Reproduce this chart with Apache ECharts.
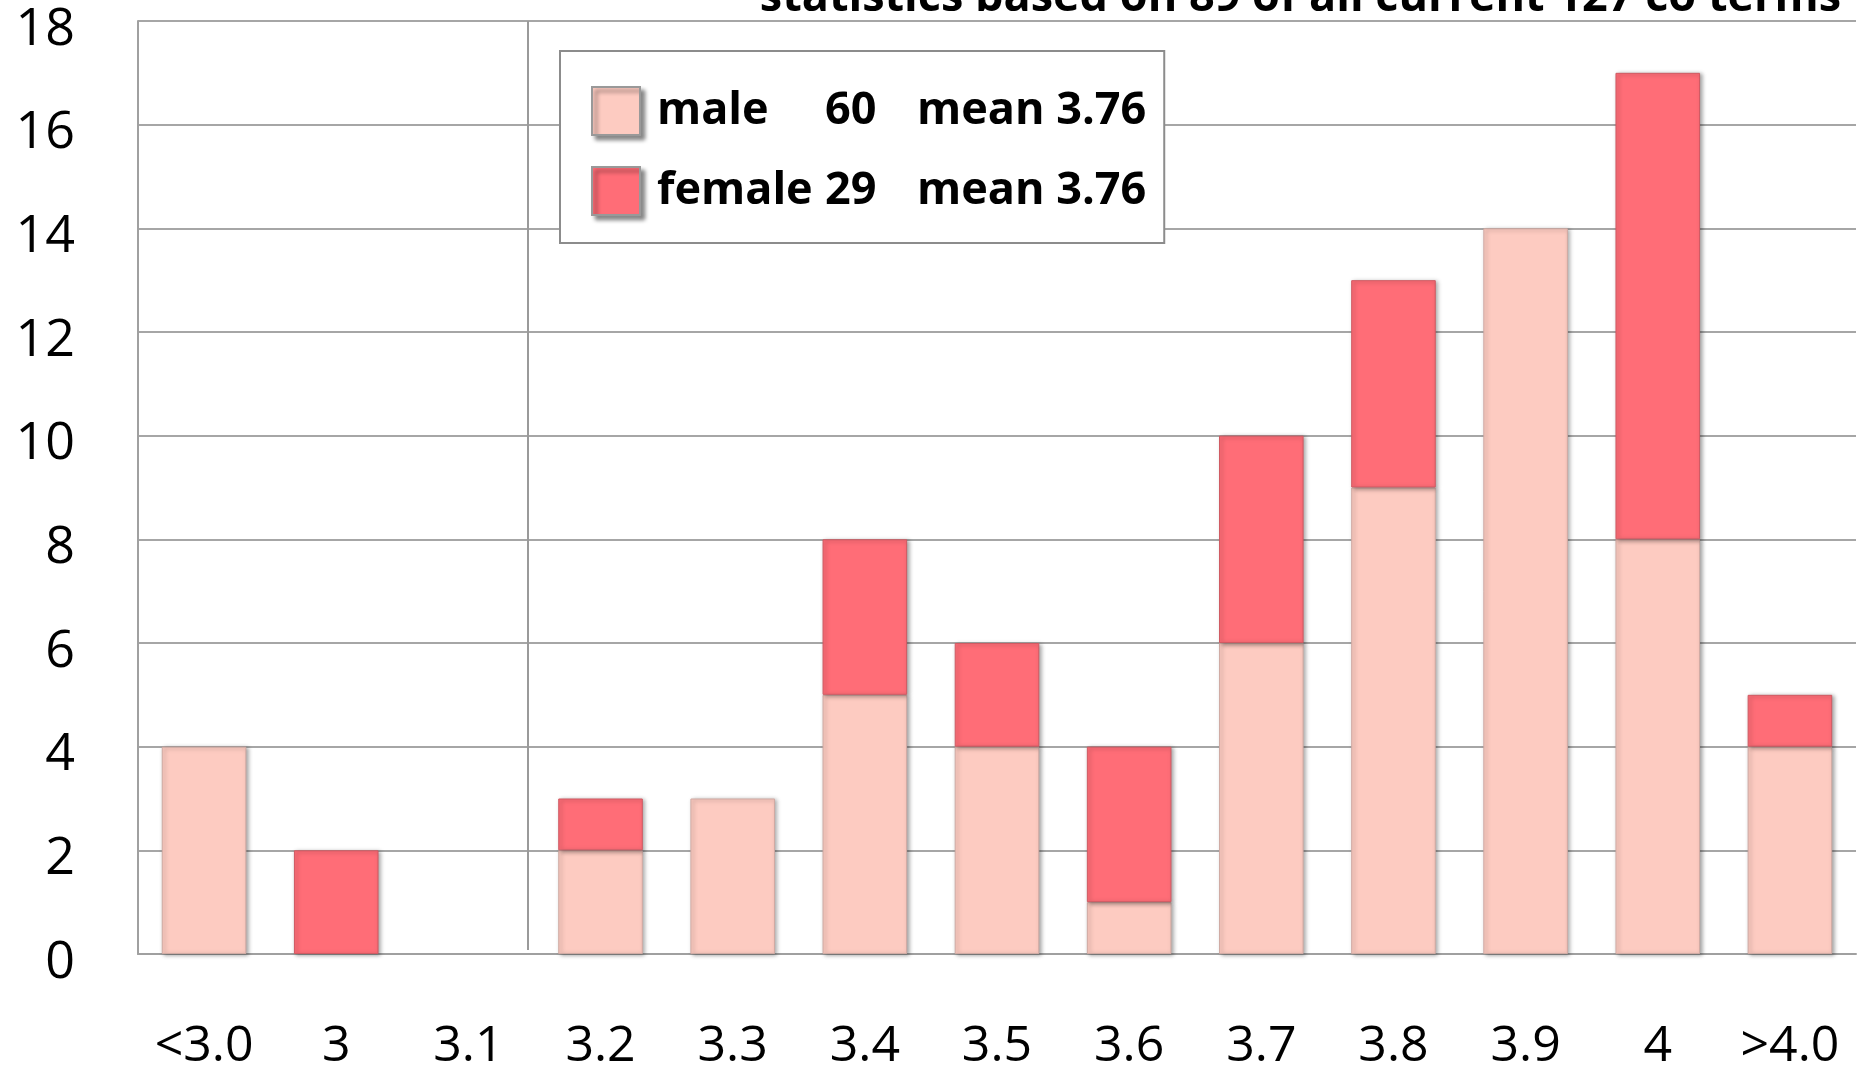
<!DOCTYPE html>
<html>
<head>
<meta charset="utf-8">
<script src="https://cdn.jsdelivr.net/npm/echarts@6/dist/echarts.min.js"></script>
<style>html,body{margin:0;padding:0;background:#fff}#c{width:1866px;height:1075px}</style>
</head>
<body>
<div id="c"></div>
<script>
var categories = ['<3.0','3','3.1','3.2','3.3','3.4','3.5','3.6','3.7','3.8','3.9','4','>4.0'];
var maleValues = [4,0,0,2,3,5,4,1,6,9,14,8,4];
var femaleValues = [0,2,0,1,0,3,2,3,4,4,0,9,1];
var seriesNames = ['male','female'];
var seriesCounts = [60, 29];
var seriesMeans = ['3.76','3.76'];
var yTicks = {min:0, max:18, interval:2};
var titleText = 'statistics based on 89 of all current 127 co terms';
var dividerBetween = ['3.1','3.2'];

var chart = echarts.init(document.getElementById('c'));
var font = '"Open Sans", sans-serif';
function hideZero(arr) { return arr.map(function (v) { return v === 0 ? '-' : v; }); }
function barStyle(color, border) {
  return {
    color: color,
    borderColor: border,
    borderWidth: 1,
    shadowBlur: 4,
    shadowOffsetX: 2,
    shadowOffsetY: 1,
    shadowColor: 'rgba(0,0,0,0.35)'
  };
}
chart.setOption({
  animation: false,
  backgroundColor: '#fff',
  title: {
    text: titleText,
    right: 20,
    top: -29,
    textStyle: {fontFamily: font, fontSize: 45, fontWeight: 'bold', color: '#000'}
  },
  grid: {left: 138, right: 10, top: 21, bottom: 121, containLabel: false},
  legend: {
    orient: 'vertical',
    left: 560,
    top: 51,
    padding: [35, 18, 27, 31],
    backgroundColor: '#fff',
    borderColor: '#8c8c8c',
    borderWidth: 2,
    itemWidth: 48,
    itemHeight: 48,
    itemGap: 30,
    icon: 'rect',
    selectedMode: false,
    data: seriesNames,
    itemStyle: {shadowBlur: 4, shadowOffsetX: 4, shadowOffsetY: 4, shadowColor: 'rgba(0,0,0,0.45)', borderColor: '#999', borderWidth: 2},
    formatter: function (name) {
      var i = seriesNames.indexOf(name);
      return '{n|' + name + '}{c|' + seriesCounts[i] + '}{m|mean ' + seriesMeans[i] + '}';
    },
    textStyle: {
      fontFamily: font, fontSize: 45, fontWeight: 'bold', color: '#000',
      padding: [0, 0, 0, 12],
      rich: {
        n: {fontFamily: font, fontSize: 45, fontWeight: 'bold', width: 168},
        c: {fontFamily: font, fontSize: 45, fontWeight: 'bold', width: 92},
        m: {fontFamily: font, fontSize: 45, fontWeight: 'bold'}
      }
    }
  },
  xAxis: {
    type: 'category',
    data: categories,
    axisLine: {lineStyle: {color: '#a0a0a0', width: 2}},
    axisTick: {show: false},
    axisLabel: {fontFamily: font, fontSize: 50, color: '#000', margin: 68, interval: 0},
    splitLine: {show: false}
  },
  yAxis: {
    type: 'value',
    min: yTicks.min, max: yTicks.max, interval: yTicks.interval,
    axisLine: {show: true, lineStyle: {color: '#a0a0a0', width: 2}},
    axisTick: {show: false},
    axisLabel: {fontFamily: font, fontSize: 52, color: '#000', margin: 63, verticalAlign: 'top', lineHeight: 18},
    splitLine: {lineStyle: {color: '#a6a6a6', width: 2}}
  },
  series: [
    {
      name: 'male', type: 'bar', stack: 'total', data: hideZero(maleValues),
      barCategoryGap: '36%',
      itemStyle: barStyle('#FDCBC1', '#d0aaa3')
    },
    {
      name: 'female', type: 'bar', stack: 'total', data: hideZero(femaleValues),
      barCategoryGap: '36%',
      itemStyle: barStyle('#FF6D77', '#d05a62')
    }
  ]
});
var xa = chart.convertToPixel({xAxisIndex: 0}, dividerBetween[0]);
var xb = chart.convertToPixel({xAxisIndex: 0}, dividerBetween[1]);
var yTop = chart.convertToPixel({yAxisIndex: 0}, yTicks.max);
var yBot = chart.convertToPixel({yAxisIndex: 0}, yTicks.min);
var xm = Math.round((xa + xb) / 2) - 6;
chart.setOption({
  graphic: [{
    type: 'line', z: 0, silent: true,
    shape: {x1: xm, y1: yTop, x2: xm, y2: yBot - 4},
    style: {stroke: '#9a9a9a', lineWidth: 2}
  }]
});
</script>
</body>
</html>
